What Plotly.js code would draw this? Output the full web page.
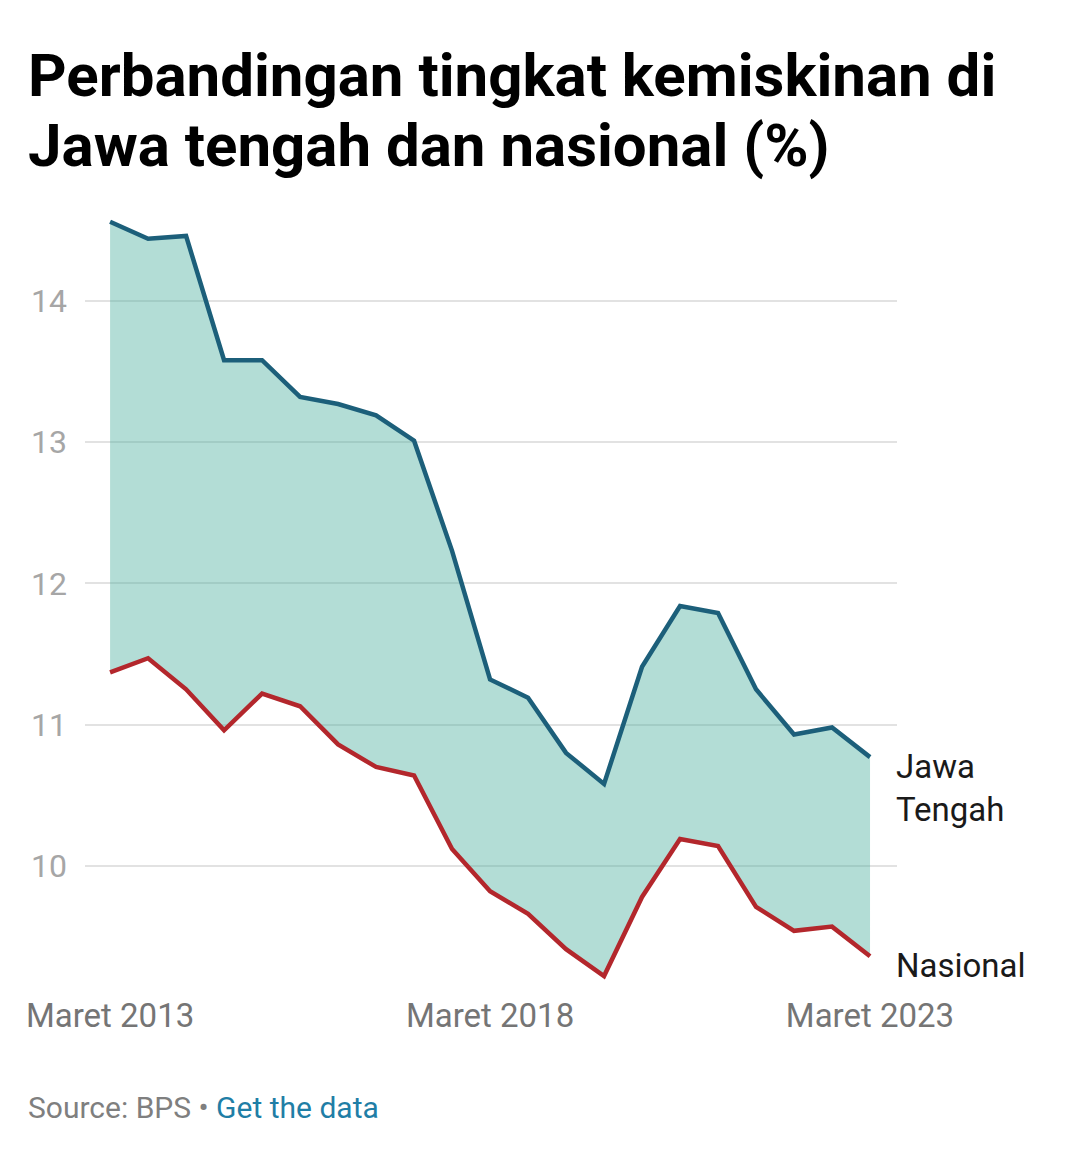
<!DOCTYPE html>
<html>
<head>
<meta charset="utf-8">
<script src="https://cdn.plot.ly/plotly-3.0.1.min.js"></script>
<style>
  html, body { margin: 0; padding: 0; background: #ffffff; }
  #chart { width: 1080px; height: 1158px; }
</style>
</head>
<body>
<div id="chart"></div>
<script>
const periods = [
  "Maret 2013", "September 2013", "Maret 2014", "September 2014", "Maret 2015",
  "September 2015", "Maret 2016", "September 2016", "Maret 2017", "September 2017",
  "Maret 2018", "September 2018", "Maret 2019", "September 2019", "Maret 2020",
  "September 2020", "Maret 2021", "September 2021", "Maret 2022", "September 2022",
  "Maret 2023"
];
const jawaTengah = [14.56, 14.44, 14.46, 13.58, 13.58, 13.32, 13.27, 13.19, 13.01, 12.23,
  11.32, 11.19, 10.80, 10.58, 11.41, 11.84, 11.79, 11.25, 10.93, 10.98, 10.77];
const nasional = [11.37, 11.47, 11.25, 10.96, 11.22, 11.13, 10.86, 10.70, 10.64, 10.12,
  9.82, 9.66, 9.41, 9.22, 9.78, 10.19, 10.14, 9.71, 9.54, 9.57, 9.36];
const xTickVals = ["Maret 2013", "Maret 2018", "Maret 2023"];
const yTickVals = [10, 11, 12, 13, 14];
const titleLines = ["Perbandingan tingkat kemiskinan di", "Jawa tengah dan nasional (%)"];

const FONT = "Roboto, 'Noto Sans', sans-serif";
const last = periods[periods.length - 1];

const traces = [
  { x: periods, y: nasional, type: "scatter", mode: "lines", line: { width: 0 }, hoverinfo: "skip", showlegend: false },
  { x: periods, y: jawaTengah, type: "scatter", mode: "lines", line: { width: 0 }, fill: "tonexty",
    fillcolor: "rgba(78,177,160,0.43)", hoverinfo: "skip", showlegend: false },
  { x: periods, y: nasional, type: "scatter", mode: "lines", name: "Nasional",
    line: { color: "#b3272c", width: 4.5 }, showlegend: false },
  { x: periods, y: jawaTengah, type: "scatter", mode: "lines", name: "Jawa Tengah",
    line: { color: "#1c5f7a", width: 4.5 }, showlegend: false }
];

const layout = {
  width: 1080, height: 1158,
  paper_bgcolor: "#ffffff", plot_bgcolor: "rgba(0,0,0,0)",
  margin: { l: 85, r: 183, t: 202, b: 165 },
  font: { family: FONT },
  showlegend: false,
  xaxis: {
    type: "category", categoryorder: "array", categoryarray: periods,
    range: [-0.66, 20.71],
    showgrid: false, zeroline: false, showline: false,
    tickmode: "array", tickvals: xTickVals, ticktext: xTickVals,
    ticks: "", ticklabelstandoff: 0,
    tickfont: { family: FONT, size: 33, color: "#757575" }
  },
  yaxis: {
    range: [9.1, 14.7],
    showgrid: true, gridcolor: "#e2e2e2", gridwidth: 2,
    zeroline: false, showline: false,
    tickmode: "array", tickvals: yTickVals, ticktext: yTickVals.map(String),
    ticks: "", ticklabelstandoff: 17,
    tickfont: { family: FONT, size: 32, color: "#a6a6a6" }
  },
  annotations: [
    { x: 0, y: 1, xref: "paper", yref: "paper", xanchor: "left", yanchor: "middle",
      xshift: -59, yshift: 127, showarrow: false, align: "left",
      text: "<b>" + titleLines[0] + "</b>",
      font: { family: FONT, size: 60, color: "#000000" } },
    { x: 0, y: 1, xref: "paper", yref: "paper", xanchor: "left", yanchor: "middle",
      xshift: -59, yshift: 57, showarrow: false, align: "left",
      text: "<b>" + titleLines[1] + "</b>",
      font: { family: FONT, size: 60, color: "#000000" } },
    { x: last, y: jawaTengah[jawaTengah.length - 1], xref: "x", yref: "y",
      text: "Jawa<br>Tengah", showarrow: false, xanchor: "left", yanchor: "middle", align: "left",
      xshift: 24, yshift: -31,
      font: { family: FONT, size: 33, color: "#1a1a1a" } },
    { x: last, y: nasional[nasional.length - 1], xref: "x", yref: "y",
      text: "Nasional", showarrow: false, xanchor: "left", yanchor: "middle", align: "left",
      xshift: 24, yshift: -9,
      font: { family: FONT, size: 33, color: "#1a1a1a" } },
    { x: 0, y: 0, xref: "paper", yref: "paper", xanchor: "left", yanchor: "middle",
      xshift: -59, yshift: -114, showarrow: false, align: "left",
      text: "<span style='color:#7f7f7f'>Source: BPS • </span><span style='color:#1f7ea6'>Get the data</span>",
      font: { family: FONT, size: 30 } }
  ]
};

Plotly.newPlot("chart", traces, layout, { displayModeBar: false, staticPlot: true });
</script>
</body>
</html>
